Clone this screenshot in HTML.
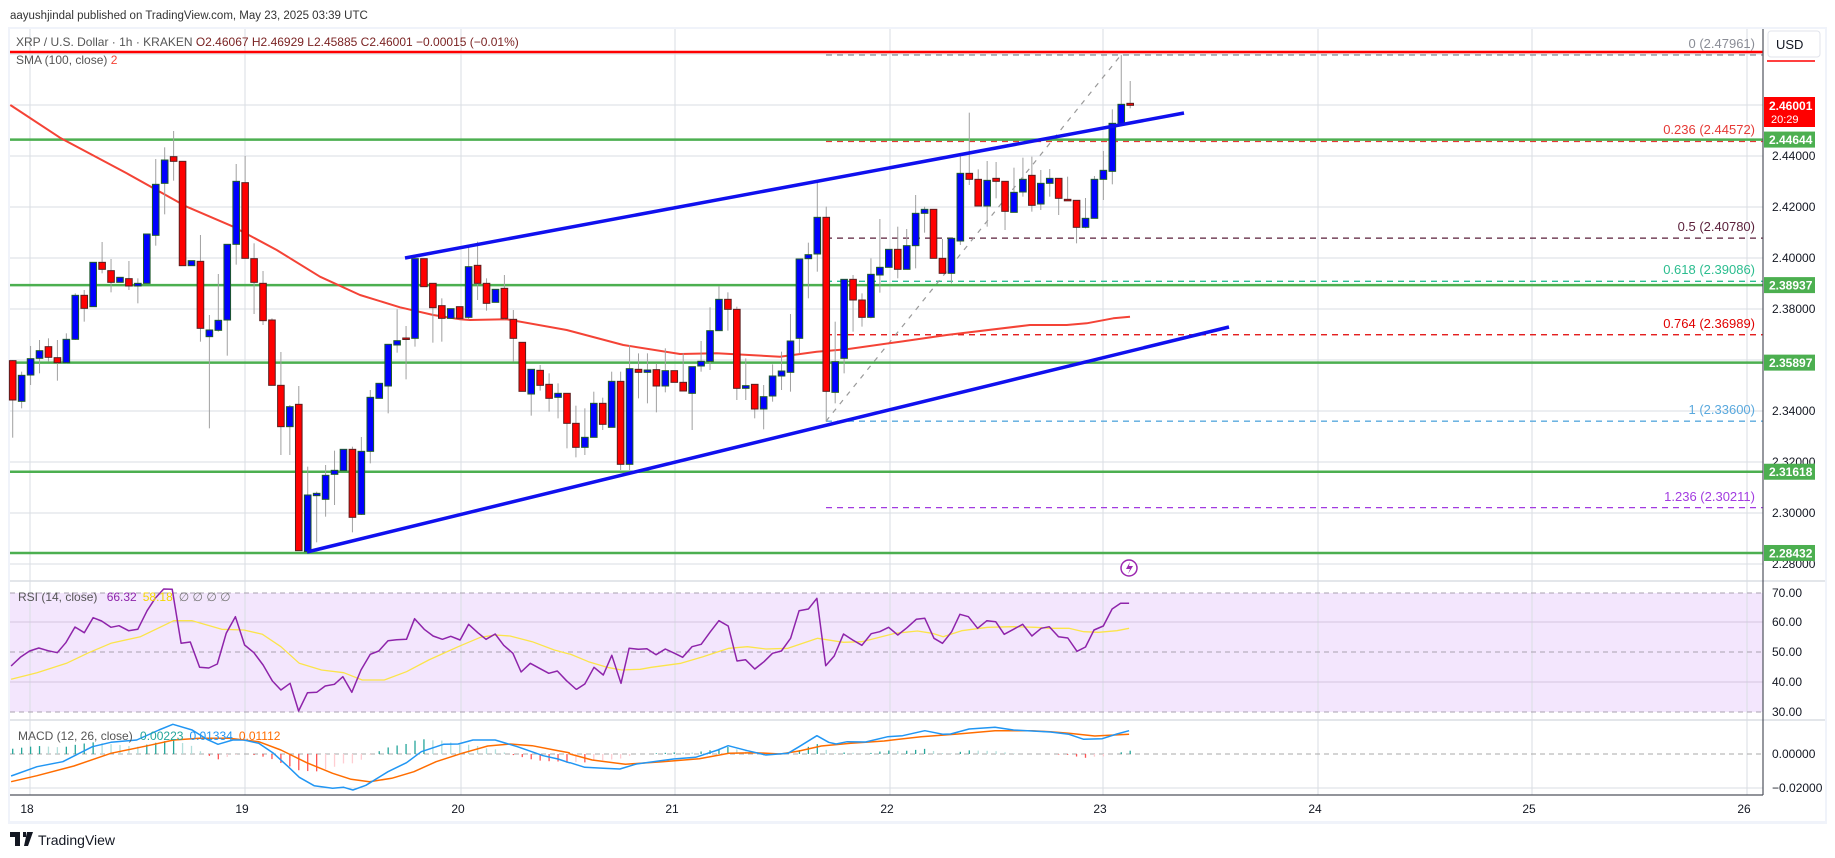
<!DOCTYPE html>
<html><head><meta charset="utf-8">
<style>
html,body{margin:0;padding:0;background:#fff;width:1835px;height:858px;overflow:hidden;font-family:"Liberation Sans",sans-serif;}
svg text{font-family:"Liberation Sans",sans-serif;}
</style></head>
<body>
<svg id="s" width="1835" height="858" viewBox="0 0 1835 858" xmlns="http://www.w3.org/2000/svg">
<rect x="0" y="0" width="1835" height="858" fill="#fff"/>
<rect x="8" y="27" width="1819" height="797" fill="#f0f3fa"/>
<rect x="10" y="29" width="1815" height="792" fill="#fff"/>
<text x="10" y="19" font-size="11.5" fill="#333">aayushjindal published on TradingView.com, May 23, 2025 03:39 UTC</text>
<g id="g"></g>
</svg>
<script>
var g=document.getElementById('g');var h='';
function L(x1,y1,x2,y2,c,w,d){h+='<line x1="'+x1+'" y1="'+y1+'" x2="'+x2+'" y2="'+y2+'" stroke="'+c+'" stroke-width="'+(w||1)+'"'+(d?' stroke-dasharray="'+d+'"':'')+'/>';}
function R(x,y,w,hh,f,s){h+='<rect x="'+x+'" y="'+y+'" width="'+w+'" height="'+hh+'" fill="'+f+'"'+(s?' stroke="'+s+'" stroke-width="1"':'')+'/>';}
function T(x,y,t,c,sz,a,fw){h+='<text x="'+x+'" y="'+y+'" font-size="'+(sz||12)+'" fill="'+c+'"'+(a?' text-anchor="'+a+'"':'')+(fw?' font-weight="bold"':'')+'>'+t+'</text>';}
function P(pts,c,w,d){h+='<polyline fill="none" stroke="'+c+'" stroke-width="'+(w||1)+'" stroke-linejoin="round" points="'+pts.map(function(p){return p[0].toFixed(1)+','+p[1].toFixed(1)}).join(' ')+'"'+(d?' stroke-dasharray="'+d+'"':'')+'/>';}
var AX=1763;
function py(p){return 156+(2.44-p)*2550;}
R(10,593,AX-10,119,'#f3e6fd');
var days=[30,245,461,675,890,1103,1318,1532,1747];
days.forEach(function(x){L(x,29,x,795,'#dadde3',1);});
[2.48,2.46,2.44,2.42,2.40,2.38,2.36,2.34,2.32,2.30,2.28].forEach(function(p){L(10,py(p),AX,py(p),'#dadde3',1);});
L(10,622,AX,622,'#d4c6e0');L(10,682,AX,682,'#d4c6e0');
L(10,593,AX,593,'#a9a2b0',1,'5,4');L(10,652,AX,652,'#a9a2b0',1,'5,4');L(10,712,AX,712,'#a9a2b0',1,'5,4');
L(10,754,AX,754,'#a9a9a9',1,'5,4');L(10,788,AX,788,'#dadde3');L(10,720,AX,720,'#dadde3');
L(10,581,1825,581,'#dadde3',1.5);L(10,720,1825,720,'#dadde3',1.5);
var fib=[[2.47961,'#8a8d96','0 (2.47961)',43],[2.44572,'#e53935','0.236 (2.44572)',129],[2.4078,'#5a1f3a','0.5 (2.40780)',226],[2.39086,'#2bbd8f','0.618 (2.39086)',269],[2.36989,'#e00000','0.764 (2.36989)',323],[2.336,'#5aa9de','1 (2.33600)',409],[2.30211,'#a23be0','1.236 (2.30211)',496]];
fib.forEach(function(f){var y=py(f[0]);L(826,y,AX,y,f[1],1.3,'6,5');T(1755,f[3]+5,f[2],f[1],13,'end');});
L(826,py(2.336),1121,55,'#999',1.2,'5,6');
[2.44644,2.38937,2.35897,2.31618,2.28432].forEach(function(p){L(10,py(p),AX,py(p),'#4caf50',2.5);});
L(10,52,AX,52,'#ff0000',2.5);L(1767,61,1815,61,'#ff0000',1.5);
function Z(a,ox,oy,fx,fy){return a.map(function(p){return [ox+p[0]/fx,oy+p[1]/fy];});}
var sma=Z([[31,135],[180,233],[380,340],[560,440],[700,500],[830,570],[960,650],[1080,705],[1200,742],[1300,765],[1380,778]],0,60,3,3)
.concat(Z([[90,780],[200,778],[380,810],[550,855],[720,882],[830,880],[1020,890],[1130,875],[1220,868],[1380,845]],440,60,3,3))
.concat(Z([[200,885],[450,855],[560,855],[620,850],[700,835],[750,830]],880,40,3,3));
P(sma,'#f44336',2);
var A=[['r',902,1020,900,1133],['b',946,1024,935,1045],['b',896,945,858,975],['b',872,895,840,940],['r',860,892,835,905],['r',893,908,840,962],['b',838,908,820,910],['b',706,838,700,840],['r',706,745,690,785],['b',607,740,0,0],['r',607,628,546,640],['r',632,667,597,697],['b',652,667,0,0],['r',656,678,603,690],['b',670,678,655,730],['b',522,670,0,0],['b',373,526,297,557],['b',300,370,262,463],['r',290,304,213,362],['r',304,617,0,0],['b',602,617,0,0],['r',604,805,525,845],['b',810,830,765,1105],['b',781,811,642,815],['b',553,780,0,887],['b',364,553,312,614],['r',368,595,288,0],['r',596,667,550,762],['r',670,782,633,795],['r',780,976,775,976],['r',976,1100,876,1185],['b',1040,1100,1035,1185],['r',1033,1472,978,1472],['b',1305,1475,1220,1475],['b',1300,1307,1295,1447],['b',1246,1318,1215,1370],['b',1231,1243,1172,1335],['b',1168,1232,0,0],['r',1168,1372,1160,1417],['b',1174,1363,1131,1365],['b',1012,1174,990,1210],['b',970,1015,0,0],['b',853,978,0,1060],['b',842,855,748,878],['r',834,836,798,958],['b',596,835,592,860],['r',596,680,0,0],['r',670,743,0,848],['r',737,775,715,845],['b',746,775,0,0],['r',740,775,0,0]];
var B=[['b',620,772,560,778],['r',616,670,545,720],['r',670,730,655,752],['b',688,727,0,0],['r',685,775,645,778],['r',778,835,750,905],['r',847,994,0,0],['b',928,1002,0,1067],['r',931,976,915,992],['r',973,1015,940,1055],['b',1000,1012,970,1075],['r',1000,1090,0,1165],['r',1090,1162,1037,1192],['b',1132,1162,1045,1185],['b',1030,1132,995,0],['r',1030,1093,1013,1110],['b',964,1102,935,0],['r',964,1213,935,1230],['b',926,1213,855,1230],['r',928,937,880,1015],['b',930,937,880,1030],['r',929,978,910,1057],['b',932,978,865,997],['r',932,967,0,0],['r',967,993,880,0],['b',920,1000,0,1110],['b',904,918,843,935],['b',812,904,742,930],['b',718,812,678,0],['r',718,748,697,812],['r',748,985,740,1020],['b',977,985,895,1020],['r',973,1047,0,1075],['b',1010,1047,975,1108],['b',948,1008,913,1025],['b',933,948,875,990],['b',843,937,762,995],['b',597,835,0,880],['b',584,596,548,715],['b',472,582,368,635],['r',472,994,440,1085],['b',905,997,785,1030],['b',658,895,0,940],['r',658,720,645,815],['r',720,772,700,800],['b',643,772,595,775],['b',622,645,477,698],['b',568,622,0,0],['r',568,628,500,655]];
var C=[['b',617,688,567,0],['b',520,617,465,685],['b',508,520,500,578],['r',508,655,0,0],['r',655,700,597,0],['b',595,700,0,730],['b',400,603,340,615],['r',400,418,218,435],['r',418,498,388,0],['b',421,498,363,560],['r',415,424,366,475],['r',424,514,0,570],['b',457,517,383,0],['b',418,456,353,470],['r',406,496,350,515],['b',430,492,390,510],['b',415,430,387,470],['r',415,475,0,525],['r',478,481,410,0],['r',481,562,0,610],['b',535,562,474,565],['b',418,535,408,0],['b',391,418,333,480],['b',250,394,208,433],['b',193,250,45,0],['r',190,196,123,205]];
var all=[];A.forEach(function(c){all.push([c,60]);});B.forEach(function(c){all.push([c,60]);});C.forEach(function(c){all.push([c,40]);});
all.forEach(function(e,i){var c=e[0],o=e[1];var x=12.7+i*8.94;var t=o+c[1]/3,b=o+c[2]/3,wt=o+(c[3]||c[1])/3,wb=o+(c[4]||c[2])/3;
 if(wt<t||wb>b)L(x,wt,x,wb,'#a0a0a0',1);
 if(b-t<1.5){b=t+1.5;}
 R(x-3.3,t,6.6,b-t,c[0]=='b'?'#0000ff':'#ff0000',c[0]=='b'?'#1e5a2a':'#5a1e1e');});
L(405,258,1184,113,'#1010ee',3.5);L(307,552,1229,327,'#1010ee',3.5);
var rsi=Z([[30,258],[55,232],[80,213],[105,204],[130,212],[155,218],[178,188],[203,141],[228,158],[252,113],[275,123],[300,142],[322,137],[348,152],[373,148],[398,92],[420,55],[443,27],[466,28],[490,190],[515,186],[540,262],[565,264],[588,252],[612,160],[637,110],[662,195],[687,218],[712,255],[737,303],[760,330],[785,310],[808,393],[832,338],[857,337],[880,318],[905,313],[928,290],[952,337],[977,270],[1002,223],[1025,213],[1050,182],[1073,179],[1100,178],[1122,116],[1148,148],[1172,168],[1197,178],[1220,169],[1245,180],[1268,133],[1293,158],[1315,178],[1340,162],[1363,196],[1388,220],[1410,276],[1435,250],[1460,265],[1485,280],[1508,273],[1533,302],[1558,327]],0,580,2.706,3)
.concat(Z([[18,328],[40,312],[65,262],[90,285],[113,226],[138,310],[160,205],[185,208],[208,206],[233,224],[258,207],[283,220],[305,232],[330,200],[355,193],[380,155],[403,122],[428,138],[452,243],[475,239],[500,267],[525,245],[548,220],[572,213],[597,175],[620,92],[645,87],[668,55],[692,257],[715,228],[740,162],[765,180],[790,196],[815,161],[838,155],[862,142],[887,165],[912,143],[937,118],[960,115],[985,175],[1008,190],[1033,155],[1055,103],[1078,110],[1103,145],[1128,122],[1152,125],[1175,163],[1200,148],[1225,133],[1250,168],[1275,145],[1297,140],[1322,170],[1347,174],[1372,214],[1395,201],[1418,150],[1443,138],[1467,87],[1490,70],[1513,70]],570,580,2.706,3));
var rma=Z([[30,298],[100,278],[180,250],[240,218],[300,190],[380,170],[470,122],[520,122],[600,148],[660,150],[710,163],[760,200],[810,250],[870,270],[930,278],[980,300],[1040,300],[1100,275],[1160,240],[1240,200],[1300,172],[1340,165],[1380,168],[1440,185],[1500,210],[1540,222]],0,580,2.706,3)
.concat(Z([[0,222],[50,245],[100,262],[140,270],[190,268],[220,262],[300,250],[360,230],[430,205],[480,200],[530,207],[590,205],[670,175],[740,187],[790,185],[880,160],[940,153],[980,160],[1010,170],[1060,152],[1130,142],[1200,140],[1260,142],[1300,145],[1350,145],[1390,155],[1430,157],[1480,152],[1513,145]],570,580,2.706,3));
P(rma,'#fbe44a',1.3);P(rsi,'#8e24aa',1.5);
var mb=Z([[30,588],[100,560],[170,545],[250,500],[300,487],[370,480],[430,450],[468,433],[520,450],[560,478],[590,493],[630,480],[660,480],[700,490],[740,520],[780,560],[810,592],[850,617],[900,625],[930,622],[955,630],[990,616],[1050,575],[1100,548],[1140,515],[1200,493],[1240,492],[1280,480],[1340,480],[1400,500],[1470,527],[1510,537],[1540,548]],0,580,2.706,3)
.concat(Z([[0,548],[40,562],[90,565],[135,567],[180,552],[280,537],[340,532],[400,510],[428,497],[480,512],[530,525],[590,520],[620,500],[668,467],[700,487],[720,492],[750,485],[800,486],[860,470],[900,467],[960,452],[1010,463],[1030,462],[1080,447],[1150,442],[1200,450],[1300,456],[1350,463],[1390,478],[1440,476],[1480,462],[1513,452]],570,580,2.706,3));
var mo=Z([[30,605],[100,587],[200,558],[300,520],[400,497],[470,480],[540,475],[620,475],[700,485],[760,510],[830,548],[900,580],[950,598],[1000,605],[1060,595],[1120,575],[1180,545],[1250,520],[1320,498],[1380,492],[1440,497],[1500,510],[1540,518]],0,580,2.706,3)
.concat(Z([[0,522],[60,540],[150,553],[250,545],[350,536],[430,520],[500,518],[570,522],[620,513],[680,498],[760,490],[850,483],[950,470],[1050,462],[1150,452],[1250,452],[1300,455],[1350,460],[1420,468],[1513,463]],570,580,2.706,3));
function interp(a,x){for(var i=1;i<a.length;i++){if(a[i][0]>=x){var p=a[i-1],q=a[i];var t=(x-p[0])/((q[0]-p[0])||1);return p[1]+t*(q[1]-p[1]);}}return a[a.length-1][1];}
var prev=0;
for(var i=0;i<126;i++){var x=12.7+i*8.94;var d=interp(mo,x)-interp(mb,x);var v=d*0.9;var col;
 if(v>=0)col=(v>=prev)?'#26a69a':'#b2dfdb';else col=(v<=prev)?'#ff5252':'#ffcdd2';
 if(Math.abs(v)>0.5)L(x,754,x,754-v,col,1.3);prev=v;}
P(mo,'#ff6d00',1.5);P(mb,'#2196f3',1.5);
L(AX,29,AX,795,'#50535e',1.2);L(10,795,AX,795,'#50535e',1.2);
[[2.44,'2.44000'],[2.42,'2.42000'],[2.40,'2.40000'],[2.38,'2.38000'],[2.34,'2.34000'],[2.32,'2.32000'],[2.30,'2.30000'],[2.28,'2.28000']].forEach(function(a){T(1772,py(a[0])+4,a[1],'#131722',12);});
[[593,'70.00'],[622,'60.00'],[652,'50.00'],[682,'40.00'],[712,'30.00'],[754,'0.00000'],[788,'−0.02000']].forEach(function(a){T(1772,a[0]+4,a[1],'#131722',12);});
var dl=['18','19','20','21','22','23','24','25','26'];days.forEach(function(x,i){T(x-3,813,dl[i],'#131722',12,'middle');});
function box(p,txt,col){var y=py(p);R(1764,y-8,51,16,col);T(1769,y+4.5,txt,'#fff',12,null,true);}
[[2.44644,'2.44644'],[2.38937,'2.38937'],[2.35897,'2.35897'],[2.31618,'2.31618'],[2.28432,'2.28432']].forEach(function(a){box(a[0],a[1],'#4caf50');});
R(1764,97,51,30,'#ff0000');T(1769,110,'2.46001','#fff',12,null,true);T(1771,123,'20:29','#fff',11);
h+='<rect x="1768" y="31" width="52" height="26" rx="3" fill="#fff" stroke="#e0e3eb"/>';T(1776,49,'USD','#131722',13);
h+='<text x="16" y="46" font-size="12" fill="#555"><tspan>XRP / U.S. Dollar · 1h · KRAKEN  </tspan><tspan fill="#7b2323">O2.46067  H2.46929  L2.45885  C2.46001  −0.00015 (−0.01%)</tspan></text>';
h+='<text x="16" y="64" font-size="12" fill="#555">SMA (100, close) <tspan fill="#f44336">2</tspan></text>';
h+='<text x="18" y="601" font-size="12" fill="#555">RSI (14, close) <tspan fill="#8e24aa" dx="6">66.32</tspan><tspan fill="#f5d800" dx="6">58.18</tspan><tspan fill="#777" dx="6">∅  ∅  ∅  ∅</tspan></text>';
h+='<text x="18" y="740" font-size="12" fill="#555">MACD (12, 26, close) <tspan fill="#26a69a" dx="4">0.00223</tspan><tspan fill="#2196f3" dx="6">0.01334</tspan><tspan fill="#ff6d00" dx="6">0.01112</tspan></text>';
h+='<circle cx="1129" cy="568" r="8" fill="#fff" stroke="#9c27b0" stroke-width="1.5"/><path d="M1130 562 L1126 569 L1130 569 L1128 574 L1133 566 L1129 566 Z" fill="#9c27b0"/>';
h+='<path d="M10 832 h10 v14 h-5 v-9 h-5 z M23 832 h3 v5 h-3 z M27 832 h6 l-5 14 h-4 z" fill="#131722"/>';
T(38,845,'TradingView','#131722',14);
g.innerHTML=h;
</script>
</body></html>
